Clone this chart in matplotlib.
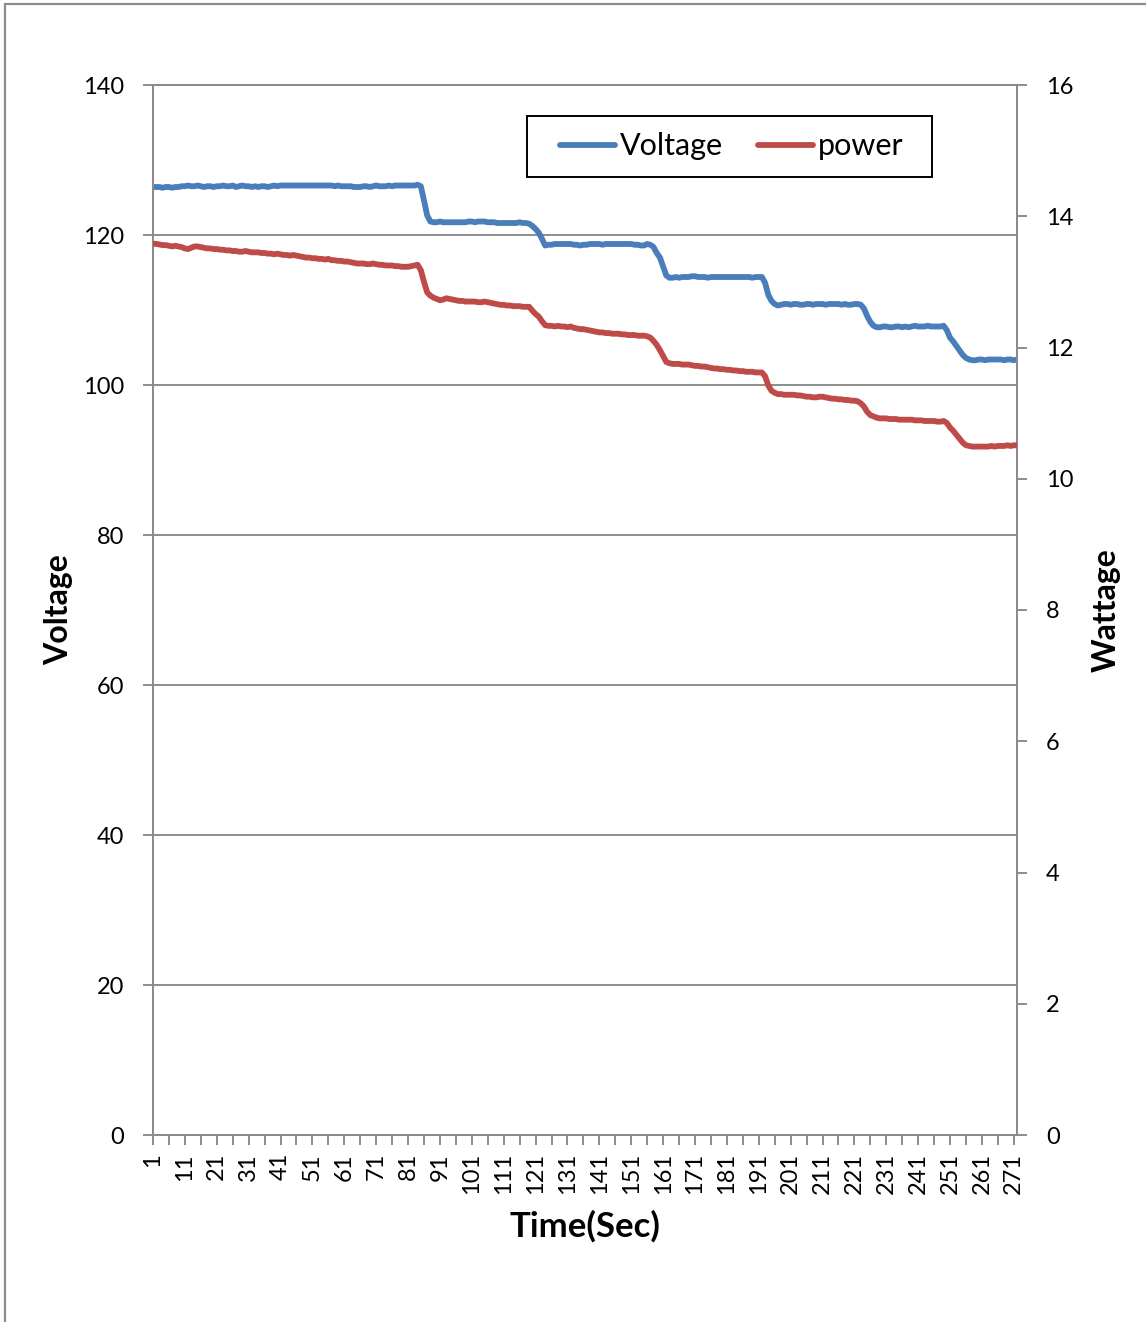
import matplotlib
matplotlib.use("Agg")
import matplotlib.pyplot as plt
from matplotlib.patches import Rectangle

plt.rcParams['font.family'] = ['Lato', 'DejaVu Sans']

# Sample numbers (seconds)
time_idx = list(range(1, 273))

# Measured voltage per second
voltage = [
    126.4, 126.4, 126.4, 126.3, 126.4, 126.4, 126.3, 126.4, 126.4, 126.5,
    126.5, 126.6, 126.5, 126.5, 126.6, 126.5, 126.4, 126.5, 126.5, 126.4,
    126.5, 126.5, 126.6, 126.5, 126.5, 126.6, 126.4, 126.5, 126.6, 126.5,
    126.5, 126.4, 126.5, 126.4, 126.5, 126.5, 126.4, 126.5, 126.6, 126.5,
    126.6, 126.6, 126.6, 126.6, 126.6, 126.6, 126.6, 126.6, 126.6, 126.6,
    126.6, 126.6, 126.6, 126.6, 126.6, 126.6, 126.6, 126.5, 126.6, 126.5,
    126.5, 126.5, 126.5, 126.4, 126.4, 126.4, 126.5, 126.5, 126.4, 126.5,
    126.6, 126.5, 126.5, 126.5, 126.6, 126.5, 126.6, 126.6, 126.6, 126.6,
    126.6, 126.6, 126.6, 126.7, 126.5, 124.6, 122.6, 121.8, 121.7, 121.7,
    121.8, 121.7, 121.7, 121.7, 121.7, 121.7, 121.7, 121.7, 121.7, 121.8,
    121.8, 121.7, 121.8, 121.8, 121.8, 121.7, 121.7, 121.7, 121.6, 121.6,
    121.6, 121.6, 121.6, 121.6, 121.6, 121.7, 121.6, 121.6, 121.5, 121.2,
    120.8, 120.3, 119.5, 118.6, 118.7, 118.7, 118.8, 118.8, 118.8, 118.8,
    118.8, 118.8, 118.7, 118.7, 118.6, 118.7, 118.7, 118.8, 118.8, 118.8,
    118.8, 118.7, 118.8, 118.8, 118.8, 118.8, 118.8, 118.8, 118.8, 118.8,
    118.8, 118.7, 118.7, 118.6, 118.6, 118.8, 118.7, 118.4, 117.6, 117.0,
    115.8, 114.6, 114.3, 114.3, 114.4, 114.3, 114.4, 114.4, 114.4, 114.5,
    114.5, 114.4, 114.4, 114.4, 114.3, 114.4, 114.4, 114.4, 114.4, 114.4,
    114.4, 114.4, 114.4, 114.4, 114.4, 114.4, 114.4, 114.4, 114.3, 114.4,
    114.4, 114.4, 113.6, 112.0, 111.2, 110.8, 110.6, 110.7, 110.8, 110.8,
    110.7, 110.8, 110.8, 110.7, 110.7, 110.8, 110.8, 110.7, 110.8, 110.8,
    110.8, 110.7, 110.8, 110.8, 110.8, 110.8, 110.7, 110.8, 110.7, 110.7,
    110.8, 110.8, 110.7, 110.2, 109.2, 108.4, 107.9, 107.7, 107.7, 107.8,
    107.8, 107.7, 107.7, 107.8, 107.8, 107.7, 107.8, 107.7, 107.8, 107.9,
    107.8, 107.8, 107.8, 107.9, 107.8, 107.8, 107.8, 107.8, 107.9, 107.3,
    106.3, 105.8, 105.2, 104.6, 104.0, 103.6, 103.4, 103.3, 103.3, 103.4,
    103.4, 103.3, 103.4, 103.4, 103.4, 103.4, 103.4, 103.3, 103.4, 103.4,
    103.3, 103.4,
]

# Measured power (W) per second
power = [
    13.58, 13.58, 13.57, 13.56, 13.56, 13.55, 13.54, 13.55, 13.54, 13.53,
    13.51, 13.50, 13.52, 13.54, 13.54, 13.53, 13.52, 13.51, 13.51, 13.50,
    13.50, 13.49, 13.49, 13.48, 13.48, 13.47, 13.47, 13.46, 13.46, 13.47,
    13.46, 13.45, 13.45, 13.45, 13.44, 13.44, 13.43, 13.43, 13.42, 13.43,
    13.42, 13.41, 13.41, 13.40, 13.41, 13.40, 13.39, 13.38, 13.37, 13.37,
    13.36, 13.36, 13.35, 13.35, 13.34, 13.35, 13.33, 13.33, 13.32, 13.32,
    13.31, 13.31, 13.30, 13.29, 13.28, 13.28, 13.28, 13.27, 13.27, 13.28,
    13.27, 13.26, 13.26, 13.25, 13.25, 13.25, 13.24, 13.24, 13.23, 13.23,
    13.23, 13.24, 13.25, 13.26, 13.18, 13.00, 12.84, 12.79, 12.76, 12.74,
    12.72, 12.73, 12.75, 12.74, 12.73, 12.72, 12.71, 12.71, 12.70, 12.70,
    12.70, 12.70, 12.69, 12.69, 12.70, 12.69, 12.68, 12.67, 12.66, 12.65,
    12.65, 12.64, 12.64, 12.63, 12.63, 12.63, 12.62, 12.62, 12.62, 12.56,
    12.51, 12.47, 12.40, 12.34, 12.33, 12.33, 12.32, 12.33, 12.32, 12.32,
    12.31, 12.32, 12.30, 12.29, 12.28, 12.28, 12.27, 12.26, 12.25, 12.24,
    12.23, 12.23, 12.22, 12.22, 12.21, 12.21, 12.21, 12.20, 12.20, 12.19,
    12.19, 12.19, 12.18, 12.18, 12.18, 12.17, 12.15, 12.10, 12.04, 11.96,
    11.87, 11.78, 11.76, 11.75, 11.75, 11.75, 11.74, 11.74, 11.74, 11.73,
    11.72, 11.72, 11.71, 11.71, 11.70, 11.69, 11.68, 11.68, 11.67, 11.67,
    11.66, 11.66, 11.65, 11.65, 11.64, 11.64, 11.63, 11.63, 11.63, 11.62,
    11.62, 11.62, 11.56, 11.42, 11.34, 11.31, 11.29, 11.29, 11.28, 11.28,
    11.28, 11.28, 11.27, 11.27, 11.26, 11.25, 11.25, 11.24, 11.24, 11.25,
    11.25, 11.24, 11.23, 11.22, 11.22, 11.21, 11.21, 11.20, 11.20, 11.19,
    11.19, 11.18, 11.15, 11.10, 11.02, 10.97, 10.95, 10.93, 10.92, 10.92,
    10.92, 10.91, 10.91, 10.91, 10.90, 10.90, 10.90, 10.90, 10.90, 10.89,
    10.89, 10.89, 10.88, 10.88, 10.88, 10.88, 10.87, 10.87, 10.88, 10.85,
    10.78, 10.73, 10.67, 10.61, 10.55, 10.51, 10.50, 10.49, 10.49, 10.49,
    10.49, 10.49, 10.49, 10.50, 10.49, 10.50, 10.50, 10.50, 10.51, 10.50,
    10.51, 10.51,
]

x_labels = list(range(1, 272, 10))
x_minor = list(range(6, 272, 10))
v_ticks = list(range(0, 141, 20))
w_ticks = list(range(0, 17, 2))

BLUE = "#4A7EBB"
RED = "#BE4B48"
GRAY = "#8C8C8C"

W, H = 1146, 1322
AX_L, AX_T, AX_W, AX_H = 153, 85, 864, 1050
fig = plt.figure(figsize=(W / 100, H / 100), dpi=100)

# chart-area frame
fig.patches.append(Rectangle((5 / W, -0.01), 1.05, 1 - 4 / H + 0.01,
                             transform=fig.transFigure, fill=False,
                             edgecolor=GRAY, linewidth=1.6))

ax = fig.add_axes([AX_L / W, 1 - (AX_T + AX_H) / H, AX_W / W, AX_H / H])
ax2 = ax.twinx()

ax.set_xlim(1, 272)
ax.set_ylim(0, 140)
ax2.set_ylim(0, 16)

ax.yaxis.grid(True, color=GRAY, linewidth=1.4)
ax.set_axisbelow(True)
for a in (ax, ax2):
    for s in a.spines.values():
        s.set_color(GRAY)
        s.set_linewidth(1.4)

lv, = ax.plot(time_idx, voltage, color=BLUE, linewidth=4.2,
              solid_capstyle='round', solid_joinstyle='round', zorder=3)
lp, = ax2.plot(time_idx, power, color=RED, linewidth=4.2,
               solid_capstyle='round', solid_joinstyle='round', zorder=3)

ax.set_yticks(v_ticks)
ax2.set_yticks(w_ticks)
ax.set_xticks(x_labels)
ax.set_xticks(x_minor, minor=True)
ax.set_xticklabels([str(v) for v in x_labels], rotation=90)

ax.tick_params(axis='y', direction='out', length=7, width=1.4, color=GRAY,
               labelsize=17, pad=14)
ax2.tick_params(axis='y', direction='out', length=7, width=1.4, color=GRAY,
                labelsize=17, pad=14)
ax.tick_params(axis='x', which='both', direction='out', length=7, width=1.4,
               color=GRAY, labelsize=17, pad=6)

ax.set_xlabel("Time(Sec)", fontsize=25, fontweight='bold', labelpad=11)
ax.set_ylabel("Voltage", fontsize=23, fontweight='bold', labelpad=7)
ax2.set_ylabel("Wattage", fontsize=23, fontweight='bold', labelpad=13)

# legend box (axes pixel layout: x 527..932, y 116..177 in figure pixels)
bx0, bx1, by0, by1 = 527, 932, 116, 177
ax2.add_patch(Rectangle(((bx0 - AX_L) / AX_W, 1 - (by1 - AX_T) / AX_H),
                        (bx1 - bx0) / AX_W, (by1 - by0) / AX_H,
                        transform=ax2.transAxes, fill=True, facecolor='white',
                        edgecolor='black', linewidth=1.4, zorder=5))
leg = ax2.legend([lv, lp], ["Voltage", "power"], ncol=2, fontsize=22,
                 loc='center',
                 bbox_to_anchor=((732 - AX_L) / AX_W,
                                 1 - ((by0 + by1) / 2 - AX_T) / AX_H),
                 frameon=False, handlelength=1.8, handletextpad=0.15,
                 columnspacing=1.15, borderpad=0, borderaxespad=0)
leg.set_zorder(6)

fig.savefig("out.png", dpi=100)
